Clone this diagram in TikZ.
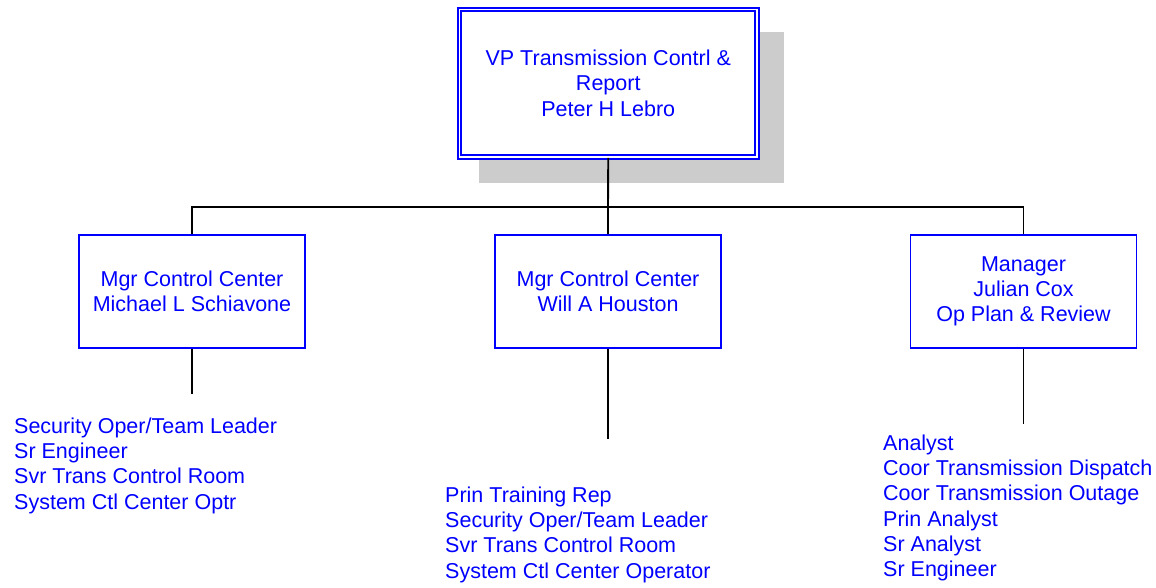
\documentclass[tikz,border=0pt]{standalone}
\usepackage{fontspec}
\setmainfont{Liberation Sans}
\usetikzlibrary{shadows}

\begin{document}
\begin{tikzpicture}[x=1pt,y=-1pt,
  every node/.style={font=\fontsize{21.5}{25.3}\selectfont, text=blue},
  vpbox/.style={draw=blue, fill=white, double=white, double distance=1.4pt, line width=1.9pt,
    minimum width=297.5pt, minimum height=147.5pt, align=center,
    drop shadow={shadow xshift=22.5pt, shadow yshift=-23.5pt, shadow scale=1.025, fill=black!20, opacity=1}},
  mgrbox/.style={draw=blue, fill=white, line width=1.6pt, minimum width=226pt, minimum height=113pt, align=center},
  jobs/.style={anchor=north west, align=left, inner sep=0pt},
  link/.style={line width=1.9pt}]
  \useasboundingbox (0,0) rectangle (1156,587);
  \node[vpbox] (vp) at (608.25,83.25) {VP Transmission Contrl \&\\Report\\Peter H Lebro};
  \node[mgrbox] (ccl) at (192,291.5) {Mgr Control Center\\Michael L Schiavone};
  \node[mgrbox] (ccm) at (608,291.5) {Mgr Control Center\\Will A Houston};
  \node[mgrbox] (opr) at (1023.5,291.5) {Manager\\Julian Cox\\Op Plan \& Review};
  \node[jobs] (jobsl) at (14,417.5) {Security Oper/Team Leader\\Sr Engineer\\Svr Trans Control Room\\System Ctl Center Optr};
  \node[jobs] (jobsm) at (445,486.5) {Prin Training Rep\\Security Oper/Team Leader\\Svr Trans Control Room\\System Ctl Center Operator};
  \node[jobs] (jobsr) at (883,434.5) {Analyst\\Coor Transmission Dispatch\\Coor Transmission Outage\\Prin Analyst\\Sr Analyst\\Sr Engineer};
  \coordinate (busl) at (192,207);
  \coordinate (busm) at (608,207);
  \coordinate (busr) at (1023.5,207);
  \coordinate (taill) at (192,394);
  \coordinate (tailm) at (608,439);
  \coordinate (tailr) at (1023.5,424);
  \draw[link] (vp.south) -- (busm) -- (ccm.north);
  \draw[link] (ccl.north) -- (busl) -- (busr) -- (opr.north);
  \draw[link] (ccl.south) -- (taill);
  \draw[link] (ccm.south) -- (tailm);
  \draw[link] (opr.south) -- (tailr);
\end{tikzpicture}
\end{document}
